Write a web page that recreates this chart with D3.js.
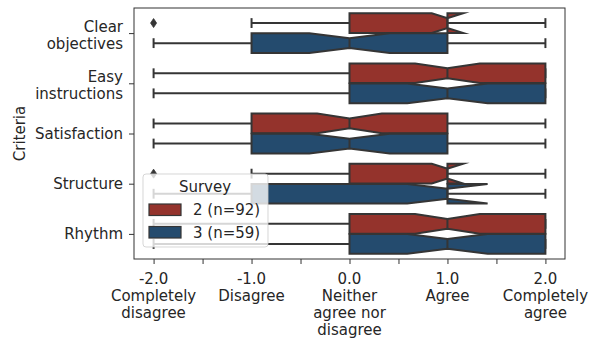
<!DOCTYPE html>
<html>
<head>
<meta charset="utf-8">
<script src="https://cdn.jsdelivr.net/npm/d3@7"></script>
<style>
  html, body { margin: 0; padding: 0; background: #fff; }
  svg { display: block; font-family: "DejaVu Sans", sans-serif; }
</style>
</head>
<body>
<svg id="chart" width="596" height="345"></svg>
<script>
// ---------------- data ----------------
const categories = ["Clear objectives", "Easy instructions", "Satisfaction", "Structure", "Rhythm"];
const categoryLabels = ["Clear\nobjectives", "Easy\ninstructions", "Satisfaction", "Structure", "Rhythm"];
const surveys = ["2 (n=92)", "3 (n=59)"];
const surveyColors = ["#94332c", "#244b6e"];

// Survey 2 (n=92)
const whiskerLo2 = [-1, -2, -2, -1, -2];
const q1_2       = [0, 0, -1, 0, 0];
const median2    = [1, 1, 0, 1, 1];
const q3_2       = [1, 2, 1, 1, 2];
const whiskerHi2 = [2, 2, 2, 2, 2];
const notchLo2   = [0.84, 0.67, -0.33, 0.84, 0.67];
const notchHi2   = [1.16, 1.33, 0.33, 1.16, 1.33];
const outliers2  = [[-2], [], [], [-2], []];

// Survey 3 (n=59)
const whiskerLo3 = [-2, -2, -2, -2, -2];
const q1_3       = [-1, 0, -1, -1, 0];
const median3    = [0, 1, 0, 1, 1];
const q3_3       = [1, 2, 1, 1, 2];
const whiskerHi3 = [2, 2, 2, 2, 2];
const notchLo3   = [-0.41, 0.59, -0.41, 0.59, 0.59];
const notchHi3   = [0.41, 1.41, 0.41, 1.41, 1.41];
const outliers3  = [[], [], [], [], []];

const xTickValues = [-2, -1.5, -1, -0.5, 0, 0.5, 1, 1.5, 2];
const xTickLabels = {
  "-2": "-2.0\nCompletely\ndisagree",
  "-1": "-1.0\nDisagree",
  "0": "0.0\nNeither\nagree nor\ndisagree",
  "1": "1.0\nAgree",
  "2": "2.0\nCompletely\nagree"
};
const xDomain = [-2.2, 2.2];
const yTitle = "Criteria";
const legendTitle = "Survey";

// ---------------- layout ----------------
const svg = d3.select("#chart");
const plot = { left: 134, right: 565, top: 8, bottom: 259 };
const edge = "#353535";
const textColor = "#262626";
const fontSize = 15;
const lineH = 17;

const x = d3.scaleLinear().domain(xDomain).range([plot.left, plot.right]);
const y = d3.scaleLinear().domain([-0.5, categories.length - 0.5]).range([plot.top, plot.bottom]);

const boxes = [];
categories.forEach((c, i) => {
  boxes.push({ cat: i, hue: 0, lo: whiskerLo2[i], q1: q1_2[i], med: median2[i], q3: q3_2[i], hi: whiskerHi2[i], nlo: notchLo2[i], nhi: notchHi2[i], out: outliers2[i] });
  boxes.push({ cat: i, hue: 1, lo: whiskerLo3[i], q1: q1_3[i], med: median3[i], q3: q3_3[i], hi: whiskerHi3[i], nlo: notchLo3[i], nhi: notchHi3[i], out: outliers3[i] });
});

const hueWidth = 0.8 / surveys.length;
const boxW = hueWidth * 0.98;
const centerOf = b => b.cat - 0.4 + hueWidth * (b.hue + 0.5);

const g = svg.append("g");

boxes.forEach(b => {
  const pc = centerOf(b);
  const top = y(pc - boxW / 2), bot = y(pc + boxW / 2);
  const capT = y(pc - boxW / 4), capB = y(pc + boxW / 4);
  const cy = y(pc);
  // whiskers
  g.append("line").attr("x1", x(b.q1)).attr("x2", x(b.lo)).attr("y1", cy).attr("y2", cy)
    .attr("stroke", edge).attr("stroke-width", 2);
  g.append("line").attr("x1", x(b.q3)).attr("x2", x(b.hi)).attr("y1", cy).attr("y2", cy)
    .attr("stroke", edge).attr("stroke-width", 2);
  // caps
  [b.lo, b.hi].forEach(v => {
    g.append("line").attr("x1", x(v)).attr("x2", x(v)).attr("y1", capT).attr("y2", capB)
      .attr("stroke", edge).attr("stroke-width", 2);
  });
  // notched box
  const pts = [
    [x(b.q1), top], [x(b.q1), bot], [x(b.nlo), bot], [x(b.med), capB], [x(b.nhi), bot],
    [x(b.q3), bot], [x(b.q3), top], [x(b.nhi), top], [x(b.med), capT], [x(b.nlo), top], [x(b.q1), top]
  ];
  g.append("path").attr("d", d3.line()(pts) + "Z")
    .attr("fill", surveyColors[b.hue]).attr("stroke", edge).attr("stroke-width", 2)
    .attr("stroke-linejoin", "miter").attr("stroke-miterlimit", 8);
  // median
  g.append("line").attr("x1", x(b.med)).attr("x2", x(b.med)).attr("y1", capT).attr("y2", capB)
    .attr("stroke", edge).attr("stroke-width", 2);
  // outliers
  b.out.forEach(v => {
    const ox = x(v);
    g.append("path").attr("d", `M${ox},${cy - 4.5}L${ox + 3},${cy}L${ox},${cy + 4.5}L${ox - 3},${cy}Z`)
      .attr("fill", edge).attr("stroke", edge).attr("stroke-width", 0.8);
  });
});

// frame
svg.append("rect").attr("x", plot.left).attr("y", plot.top)
  .attr("width", plot.right - plot.left).attr("height", plot.bottom - plot.top)
  .attr("fill", "none").attr("stroke", "#333").attr("stroke-width", 1);

// x axis
const xAxis = d3.axisBottom(x).tickValues(xTickValues).tickSize(5).tickFormat("");
const gx = svg.append("g").attr("transform", `translate(0,${plot.bottom})`).call(xAxis);
gx.select(".domain").remove();
gx.selectAll(".tick line").attr("stroke", "#333").attr("stroke-width", 1);
xTickValues.forEach(v => {
  const lbl = xTickLabels[String(v)];
  if (!lbl) return;
  const t = svg.append("text").attr("x", x(v)).attr("y", 284)
    .attr("text-anchor", "middle").attr("font-size", fontSize).attr("fill", textColor);
  lbl.split("\n").forEach((s, k) => {
    t.append("tspan").attr("x", x(v)).attr("dy", k === 0 ? 0 : lineH).text(s);
  });
});

// y axis
const yAxis = d3.axisLeft(y).tickValues(d3.range(categories.length)).tickSize(5).tickFormat("");
const gy = svg.append("g").attr("transform", `translate(${plot.left},0)`).call(yAxis);
gy.select(".domain").remove();
gy.selectAll(".tick line").attr("stroke", "#333").attr("stroke-width", 1);
categoryLabels.forEach((lbl, i) => {
  const lines = lbl.split("\n");
  const y0 = y(i) + 5 - (lines.length - 1) * 6.5;
  const t = svg.append("text").attr("x", 123).attr("y", y0)
    .attr("text-anchor", "end").attr("font-size", fontSize).attr("fill", textColor);
  lines.forEach((s, k) => {
    t.append("tspan").attr("x", 123).attr("dy", k === 0 ? 0 : lineH).text(s);
  });
});

svg.append("text").attr("transform", `translate(25,${(plot.top + plot.bottom) / 2}) rotate(-90)`)
  .attr("text-anchor", "middle").attr("font-size", fontSize).attr("fill", textColor).text(yTitle);

// legend
const lg = svg.append("g").attr("transform", "translate(143,174)");
lg.append("rect").attr("x", 0).attr("y", 0).attr("width", 125).attr("height", 73).attr("rx", 3)
  .attr("fill", "rgba(255,255,255,0.8)").attr("stroke", "rgba(204,204,204,0.8)").attr("stroke-width", 1);
lg.append("text").attr("x", 62).attr("y", 18).attr("text-anchor", "middle")
  .attr("font-size", fontSize).attr("fill", textColor).text(legendTitle);
surveys.forEach((s, k) => {
  const yy = 30 + k * 22.5;
  lg.append("rect").attr("x", 6).attr("y", yy).attr("width", 32).attr("height", 11.5)
    .attr("fill", surveyColors[k]).attr("stroke", edge).attr("stroke-width", 1.2);
  lg.append("text").attr("x", 50).attr("y", yy + 11).attr("font-size", fontSize)
    .attr("fill", textColor).text(s);
});
</script>
</body>
</html>
